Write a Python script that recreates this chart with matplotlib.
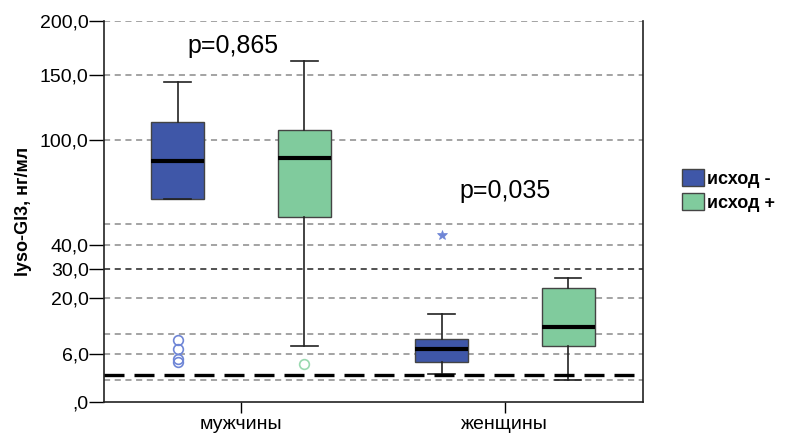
import numpy as np
import matplotlib
matplotlib.use("Agg")
import matplotlib.pyplot as plt
from matplotlib.patches import Patch

plt.rcParams["font.family"] = ["Liberation Sans", "DejaVu Sans"]

# ── data ─────────────────────────────────────────────────────────────────────
GROUPS = ["мужчины", "женщины"]
SERIES = ["исход -", "исход +"]

# box stats per group: [исход -, исход +]
WHISK_LO = [[66.2, 7.9], [3.5, 2.7]]
Q1 = [[66.2, 56.1], [5.0, 8.0]]
MEDIAN = [[87.9, 89.4], [7.1, 12.7]]
Q3 = [[113.9, 107.3], [9.7, 23.5]]
WHISK_HI = [[144.4, 162.9], [16.0, 27.0]]
OUTLIERS = [[[9.4, 7.25, 5.3, 5.0], [4.7]], [[], []]]
EXTREMES = [[[], []], [[45.7], []]]

P_LABELS = ["p=0,865", "p=0,035"]
P_Y = [177, 71]

# y axis: nonlinear scale given by labelled ticks and their axis fractions
Y_TICKS = [0, 6, 20, 30, 40, 100, 150, 200]
Y_FRACS = [0.0, 0.126, 0.273, 0.3475, 0.411, 0.688, 0.857, 1.0]
EXTRA_GRID = [2.7, 10.9, 52.0]
REF_LINE = 3.4

COLORS = ["#3f57a8", "#80cb9d"]
FLIER_COLORS = ["#6f86d6", "#9ad9b0"]


def fwd(v):
    return np.interp(v, Y_TICKS, Y_FRACS)


def inv(f):
    return np.interp(f, Y_FRACS, Y_TICKS)


def fmt(v):
    s = ("%.1f" % v).replace(".", ",")
    return s[1:] if v == 0 else s


fig = plt.figure(figsize=(7.85, 4.34), dpi=100)
ax = fig.add_axes([0.1325, 0.0744, 0.6865, 0.8779])
ax.set_yscale("function", functions=(fwd, inv))
ax.set_ylim(0, 200)
ax.set_xlim(-0.519, 1.523)

# grid lines
for v in Y_TICKS[1:] + EXTRA_GRID:
    col = "#222222" if v == 30 else "#8a8a8a"
    ax.axhline(v, color=col, lw=1.1, dashes=(4, 3), zorder=1)
ax.axhline(REF_LINE, color="black", lw=2.4, dashes=(6, 3), zorder=4)

offsets = [-0.24, 0.24]
for g in range(len(GROUPS)):
    for s in range(len(SERIES)):
        stats = [dict(med=MEDIAN[g][s], q1=Q1[g][s], q3=Q3[g][s],
                      whislo=WHISK_LO[g][s], whishi=WHISK_HI[g][s],
                      fliers=OUTLIERS[g][s])]
        ax.bxp(stats, positions=[g + offsets[s]], widths=0.2,
               patch_artist=True, manage_ticks=False,
               boxprops=dict(facecolor=COLORS[s], edgecolor="#444444", lw=1),
               medianprops=dict(color="black", lw=3),
               whiskerprops=dict(color="#222222", lw=1.2),
               capprops=dict(color="#222222", lw=1.2),
               capwidths=0.1,
               flierprops=dict(marker="o", markerfacecolor="none",
                               markeredgecolor=FLIER_COLORS[s],
                               markersize=7, mew=1.2),
               zorder=3)
        if EXTREMES[g][s]:
            ax.plot([g + offsets[s]] * len(EXTREMES[g][s]), EXTREMES[g][s],
                    ls="none", marker="*", color=FLIER_COLORS[s],
                    markersize=7, mew=0.5, zorder=3)

for g, (lab, yv) in enumerate(zip(P_LABELS, P_Y)):
    ax.text(g - 0.03 * (1 - g), yv, lab, ha="center", va="center", fontsize=18)

ax.set_yticks(Y_TICKS)
ax.set_yticklabels([fmt(v) for v in Y_TICKS])
ax.set_xticks(range(len(GROUPS)))
ax.set_xticklabels(GROUPS)
ax.tick_params(axis="y", length=11, width=1, pad=0, labelsize=14)
ax.tick_params(axis="x", length=8, width=1, pad=2, labelsize=14)
ax.set_ylabel("lyso-Gl3, нг/мл", fontsize=13, fontweight="bold", labelpad=6)
ax.spines["top"].set_visible(False)
for side in ["left", "bottom", "right"]:
    ax.spines[side].set_color("#222222")
    ax.spines[side].set_linewidth(1.2)

handles = [Patch(facecolor=c, edgecolor="#444444", lw=1) for c in COLORS]
fig.legend(handles, SERIES, loc="upper left", bbox_to_anchor=(0.869, 0.61),
           frameon=False, prop=dict(weight="bold", size=13),
           handlelength=1.2, handleheight=1.05, handletextpad=0.15,
           labelspacing=0.3, borderpad=0, borderaxespad=0)

fig.savefig("out.png", dpi=100)
